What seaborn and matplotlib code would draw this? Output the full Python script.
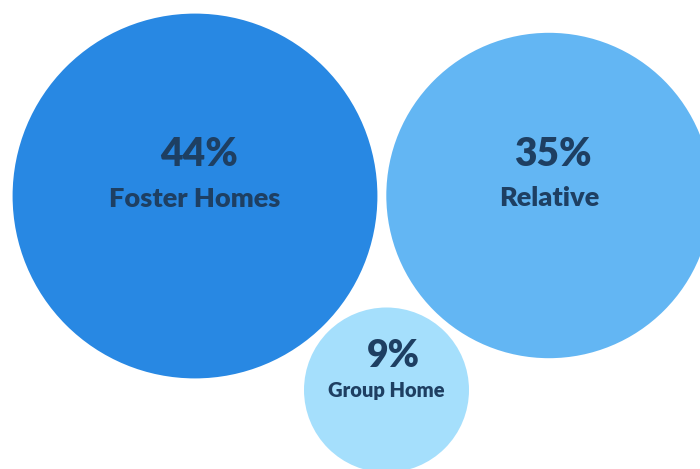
import matplotlib
matplotlib.use("Agg")
import matplotlib.pyplot as plt
import seaborn as sns
import pandas as pd
import numpy as np

labels = ["Foster Homes", "Relative", "Group Home"]
shares = [44, 35, 9]
pos_x = [195, 549, 386.5]
pos_y = [196, 195.5, 390]
colors = ["#2888E3", "#63B6F3", "#A5DFFC"]
text_color = "#1E3F62"

df = pd.DataFrame({"label": labels, "share": shares, "x": pos_x, "y": pos_y})

sns.set_style("white")
plt.rcParams["font.family"] = ["Lato", "DejaVu Sans"]

W, H, dpi = 700, 469, 100
fig = plt.figure(figsize=(W / dpi, H / dpi), dpi=dpi)
ax = fig.add_axes([0, 0, 1, 1])

# area proportional to share; radius in px -> marker area in pt^2
px_per_unit = 27.5
def marker_area(v):
    r = px_per_unit * np.sqrt(v)
    return (2 * r * 72 / dpi) ** 2

size_map = {v: marker_area(v) for v in shares}
sns.scatterplot(data=df, x="x", y="y", hue="label", palette=dict(zip(labels, colors)),
                size="share", sizes=size_map, linewidth=0, alpha=1,
                legend=False, ax=ax)

for lab, v, x, y in zip(labels, shares, pos_x, pos_y):
    big = v > 20
    ax.text(x + (4 if big else 7), y - (41 if big else 34), f"{v}%", ha="center", va="center",
            fontsize=28 if big else 27, fontweight="heavy", color=text_color)
    ax.text(x, y + (3 if big else 1), lab, ha="center", va="center",
            fontsize=19.5 if big else 14.5, fontweight="heavy", color=text_color)

ax.set_xlim(0, W)
ax.set_ylim(H, 0)
ax.axis("off")
fig.savefig("out.png", dpi=dpi)
